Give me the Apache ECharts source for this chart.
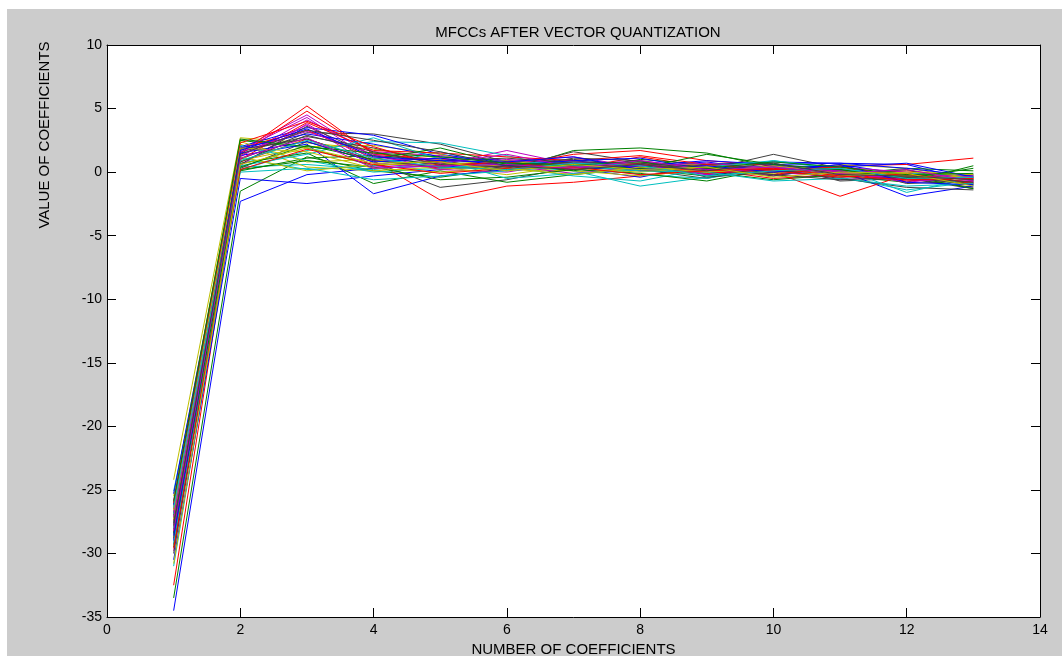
<!DOCTYPE html>
<html>
<head>
<meta charset="utf-8">
<script src="https://cdn.jsdelivr.net/npm/echarts@6/dist/echarts.min.js"></script>
<style>
  html, body { margin: 0; padding: 0; background: #ffffff; }
  #frame { position: absolute; left: 7px; top: 9px; right: 0; bottom: 6px; background: #cccccc; }
  #chart { position: absolute; left: 0; top: 0; width: 1062px; height: 662px; }
</style>
</head>
<body>
<div id="frame"></div>
<div id="chart"></div>
<script>
const chartTitle = 'MFCCs AFTER VECTOR QUANTIZATION';
const xAxisTitle = 'NUMBER OF COEFFICIENTS';
const yAxisTitle = 'VALUE OF COEFFICIENTS';
const coefficientIndex = [1, 2, 3, 4, 5, 6, 7, 8, 9, 10, 11, 12, 13];
const xTicks = [0, 2, 4, 6, 8, 10, 12, 14];
const yTicks = [-35, -30, -25, -20, -15, -10, -5, 0, 5, 10];
const lineColors = ['#0000ff', '#008000', '#ff0000', '#00bfbf', '#bf00bf', '#bfbf00', '#404040'];

// each row = one codeword (13 MFCC values)
const codebook = [
  [-34.5, -2.3, -0.2, 0.3, 0.5, 0.2, 0.4, 0.1, 0.3, -0.2, 0.1, -0.3, -0.5],
  [-33.5, -1.5, 1.2, 0.1, -0.4, 0.3, 0.6, 0.2, -0.3, 0.4, 0.0, -0.6, -0.8],
  [-32.5, 0.8, 2.6, 0.9, -2.2, -1.1, -0.8, -0.3, 0.2, -0.5, -0.2, 0.1, -0.4],
  [-31.0, 0.4, 0.6, 0.2, 0.8, 0.5, 0.1, -1.1, -0.4, 0.3, 0.2, -0.3, -0.6],
  [-29.8, 1.8, 4.5, 1.2, 0.6, 1.7, 0.6, 0.9, 0.3, 0.0, -0.4, -0.2, -0.9],
  [-24.2, 2.7, 2.3, 1.8, 1.1, 0.4, 0.9, 0.3, 0.5, 0.6, 0.1, -0.4, -0.3],
  [-28.5, 1.0, 3.1, 3.0, 2.2, 0.8, 1.0, 0.5, 0.2, 1.4, 0.3, -0.5, -1.2],
  [-30.5, -0.5, -0.9, -0.3, 0.2, 0.6, 0.3, -0.4, 0.6, 0.8, 0.7, 0.6, -0.7],
  [-26.8, 2.5, 1.9, 0.5, 0.9, 0.1, 1.7, 1.9, 1.5, 0.4, -0.3, -0.8, 0.5],
  [-27.9, 1.5, 5.2, 1.4, 1.0, 0.6, 0.3, 1.2, 0.4, -0.2, 0.5, 0.6, 1.1],
  [-25.1, 0.2, 1.7, 2.4, 2.3, 1.3, 0.2, 0.6, -0.1, 0.9, 0.2, -0.4, -0.2],
  [-28.9, 1.2, 4.1, 1.6, 1.3, 0.9, 1.2, 0.4, -0.1, 0.3, -0.6, -0.3, -0.5],
  [-26.3, 2.2, 0.4, 0.1, 0.4, -0.2, 0.5, 0.3, 0.7, 0.2, 0.0, -0.5, -0.9],
  [-29.3, 0.3, 2.4, 0.8, -1.2, -0.6, 0.4, 0.2, -0.5, 0.6, -0.7, -0.5, -1.3],
  [-27.2, 2.0, 3.5, 2.9, 1.4, 0.7, 0.9, 0.4, 0.8, 0.1, 0.6, -0.2, -0.6],
  [-28.1, 0.7, 1.5, -0.9, 0.1, -0.8, -0.2, 0.3, 0.0, -0.6, -0.2, 0.3, 0.1],
  [-26.5, 1.9, 3.3, 1.1, 0.3, 0.5, 1.4, 1.7, 0.9, 0.5, -0.1, -0.7, -0.4],
  [-27.5, 1.1, 0.2, 0.5, 1.6, 0.4, -0.3, -0.7, 0.3, 0.2, -0.4, -1.4, -0.8],
  [-25.8, 0.5, 3.8, 0.7, 0.4, 1.0, 0.6, 0.2, 0.5, -0.3, 0.4, 0.0, -0.6],
  [-28.7, 0.9, 2.0, 2.1, 1.4, 0.2, 0.1, -0.3, 0.2, 0.4, 0.3, -0.2, -0.4],
  [-26.1, 1.6, 2.8, 1.9, 0.7, 0.3, 1.6, 0.8, 0.2, -0.3, 0.5, -0.9, -0.7],
  [-29.0, 1.3, 2.2, -1.7, -0.3, 0.2, 0.5, 0.6, -0.2, 0.3, 0.1, -1.9, -1.1],
  [-27.0, 0.1, 1.1, 1.3, 0.5, 0.8, 0.1, 1.0, 0.6, 0.7, -0.3, 0.2, -1.0],
  [-28.3, 1.4, 4.8, 1.5, 0.8, 0.4, 0.7, 0.1, 0.3, 0.0, -1.9, -0.2, -0.6],
  [-26.9, 2.1, 0.9, 0.0, 0.3, 0.7, 0.8, -0.2, -0.5, 0.4, 0.2, -0.1, -0.3],
  [-27.7, 1.7, 4.3, 0.9, 1.1, 0.5, -0.1, 0.4, 0.1, 0.2, -0.2, -0.4, -0.2],
  [-25.5, 2.4, 0.8, 1.0, 0.2, 0.6, 0.4, 0.7, 0.1, -0.1, 0.6, 0.3, -0.5],
  [-30.0, 0.6, 3.6, 1.3, 0.9, 1.1, 0.7, 0.3, 0.6, 0.2, -0.5, -1.2, -1.4],
  [-25.3, 1.9, 3.0, 2.2, 1.2, 0.9, 0.2, 0.5, 0.9, 0.6, 0.7, 0.3, -0.3],
  [-29.5, 0.2, 0.9, 0.4, -0.6, -0.4, 0.2, -0.1, -0.7, 0.3, 0.1, -0.3, -1.3],
  [-27.4, 1.0, 3.9, 1.7, 1.5, 1.2, 0.9, 1.3, 0.6, 0.1, -0.4, -0.1, -0.9],
  [-28.0, 0.5, 1.4, 2.7, 1.0, -0.5, -0.1, 0.2, 0.4, 0.9, 0.3, -1.6, -0.4],
  [-26.7, 1.6, 3.2, 1.4, 0.2, 0.0, 0.8, 0.6, -0.2, 0.5, 0.0, -0.6, -0.7],
  [-27.3, 1.2, 0.1, 0.6, 0.6, 0.9, 0.3, 0.0, 0.4, 0.3, -0.3, 0.0, -0.2],
  [-28.8, 1.8, 2.6, 0.9, 0.4, 0.2, 1.1, 0.9, -0.4, 0.0, 0.2, -0.4, -1.0],
  [-26.2, 1.5, 2.4, 0.8, 1.1, 0.5, 0.9, 1.1, 0.2, 0.5, 0.4, 0.7, -0.4],
  [-28.4, 0.4, 2.1, 1.0, 1.9, 0.6, 0.5, 0.3, 1.4, 0.6, 0.2, -0.5, 0.3],
  [-26.0, 2.3, 4.0, 2.0, 0.5, 0.8, 0.2, 0.7, -0.1, 0.2, 0.4, -0.3, -0.8],
  [-29.2, 0.0, 0.3, -0.6, -0.3, 0.1, 0.5, 0.1, 0.0, -0.7, -0.5, -1.1, -0.9],
  [-27.1, 1.3, 3.7, 0.4, 0.7, 1.4, 0.4, 0.5, 0.7, 0.3, 0.1, -0.8, -0.3],
  [-26.6, 1.9, 1.6, 0.3, 0.0, 0.3, -0.2, 0.4, 0.0, 0.5, -0.1, -0.3, -0.6],
  [-27.6, 0.8, 2.9, 1.6, 0.6, 0.4, 0.8, 0.7, 0.3, -0.2, -0.6, -0.4, -0.8],
  [-28.6, 1.7, 3.4, 1.2, 0.9, 0.8, 1.2, 0.2, 0.5, 0.0, 0.6, -0.8, -1.0],
  [-25.9, 2.6, 2.0, 1.5, 1.2, 0.7, 0.6, 0.8, 0.3, 0.8, 0.4, -0.2, -0.1],
  [-29.6, 0.2, 1.8, 0.6, -0.1, 0.3, 0.4, -0.2, 0.1, 0.3, -0.3, -0.6, -0.5],
  [-26.4, 0.9, 2.5, 1.1, 0.4, 0.2, 0.7, 0.5, -0.3, 0.1, 0.3, -0.5, -0.4],
  [-28.2, 1.1, 2.7, 0.3, 0.5, 0.6, 0.3, 0.9, 0.2, 0.4, -0.1, 0.2, -0.7],
  [-30.8, 0.6, 1.9, 0.7, 0.8, 0.1, 0.6, 0.2, 0.4, -0.4, 0.0, -0.1, -1.1],
  [-27.8, 1.4, 3.3, 2.5, 1.6, 0.5, 0.2, 0.6, 0.1, 0.7, -0.2, -0.3, -0.6]
];

const FONT = 'Liberation Sans, Arial, sans-serif';
const chart = echarts.init(document.getElementById('chart'));

const series = codebook.map((row, i) => ({
  type: 'line',
  xAxisIndex: 0,
  yAxisIndex: 0,
  data: row.map((v, j) => [coefficientIndex[j], v]),
  showSymbol: false,
  symbol: 'none',
  silent: true,
  lineStyle: { color: lineColors[i % lineColors.length], width: 1 },
  animation: false
}));

const tickLen = 9;
const baseAxisLine = { show: true, onZero: false, lineStyle: { color: '#000', width: 1 } };

const option = {
  animation: false,
  backgroundColor: 'transparent',
  title: {
    text: chartTitle,
    left: 573, top: 20, textAlign: 'center',
    textStyle: { fontFamily: FONT, fontSize: 15, fontWeight: 'normal', color: '#000' }
  },
  grid: { left: 107, right: 22, top: 45, bottom: 45, show: true, backgroundColor: '#ffffff', borderWidth: 0 },
  xAxis: [
    {
      type: 'value', min: xTicks[0], max: xTicks[xTicks.length - 1], interval: 2,
      position: 'bottom',
      name: xAxisTitle, nameLocation: 'middle', nameGap: 24,
      nameTextStyle: { fontFamily: FONT, fontSize: 15, color: '#000' },
      axisLine: baseAxisLine,
      axisTick: { show: true, inside: true, length: tickLen, lineStyle: { color: '#000' } },
      axisLabel: { fontFamily: FONT, fontSize: 14, color: '#000', margin: 6 },
      splitLine: { show: false }
    },
    {
      type: 'value', min: xTicks[0], max: xTicks[xTicks.length - 1], interval: 2,
      position: 'top',
      axisLine: baseAxisLine,
      axisTick: { show: true, inside: true, length: tickLen, lineStyle: { color: '#000' } },
      axisLabel: { show: false },
      splitLine: { show: false }
    }
  ],
  yAxis: [
    {
      type: 'value', min: yTicks[0], max: yTicks[yTicks.length - 1], interval: 5,
      position: 'left',
      axisLine: baseAxisLine,
      axisTick: { show: true, inside: true, length: tickLen, lineStyle: { color: '#000' } },
      axisLabel: { fontFamily: FONT, fontSize: 14, color: '#000', margin: 5 },
      splitLine: { show: false }
    },
    {
      type: 'value', min: yTicks[0], max: yTicks[yTicks.length - 1], interval: 5,
      position: 'right',
      axisLine: baseAxisLine,
      axisTick: { show: true, inside: true, length: tickLen, lineStyle: { color: '#000' } },
      axisLabel: { show: false },
      splitLine: { show: false }
    }
  ],
  graphic: [
    {
      type: 'text',
      x: 45, y: 135,
      rotation: Math.PI / 2,
      style: {
        text: yAxisTitle,
        fontFamily: FONT, fontSize: 15, fill: '#000',
        textAlign: 'center', textVerticalAlign: 'middle'
      }
    }
  ],
  series: series
};

chart.setOption(option);
</script>
</body>
</html>
